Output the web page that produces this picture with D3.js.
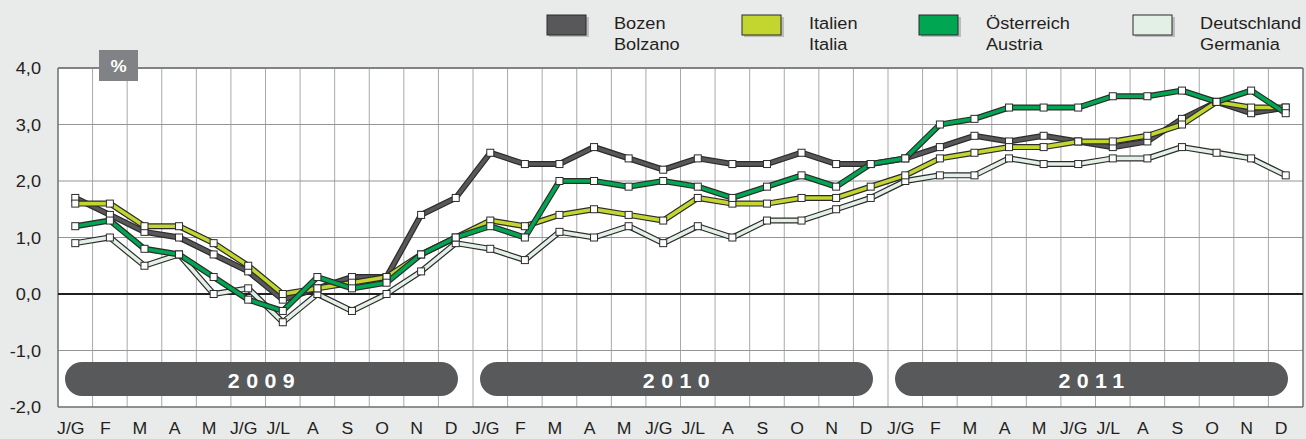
<!DOCTYPE html>
<html>
<head>
<meta charset="utf-8">
<script src="https://cdn.jsdelivr.net/npm/d3@7/dist/d3.min.js"></script>
<style>
  body { margin: 0; background: #e9eaea; }
  svg { display: block; font-family: "Liberation Sans", Arial, sans-serif; }
</style>
</head>
<body>
<svg width="1306" height="439"></svg>
<script>
// month labels (one year) and years
const monthsOfYear = ["J/G", "F", "M", "A", "M", "J/G", "J/L", "A", "S", "O", "N", "D"]
const years = ["2009", "2010", "2011"]
const months = [].concat(monthsOfYear, monthsOfYear, monthsOfYear)

const yTicks = [4, 3, 2, 1, 0, -1, -2]

// inflation rates, % (Jan 2009 - Dec 2011)
const bozen = [1.7, 1.4, 1.1, 1.0, 0.7, 0.4, -0.1, 0.1, 0.3, 0.3, 1.4, 1.7,
               2.5, 2.3, 2.3, 2.6, 2.4, 2.2, 2.4, 2.3, 2.3, 2.5, 2.3, 2.3,
               2.4, 2.6, 2.8, 2.7, 2.8, 2.7, 2.6, 2.7, 3.1, 3.4, 3.2, 3.3]
const italien = [1.6, 1.6, 1.2, 1.2, 0.9, 0.5, 0.0, 0.1, 0.2, 0.3, 0.7, 1.0,
                 1.3, 1.2, 1.4, 1.5, 1.4, 1.3, 1.7, 1.6, 1.6, 1.7, 1.7, 1.9,
                 2.1, 2.4, 2.5, 2.6, 2.6, 2.7, 2.7, 2.8, 3.0, 3.4, 3.3, 3.3]
const oesterreich = [1.2, 1.3, 0.8, 0.7, 0.3, -0.1, -0.3, 0.3, 0.1, 0.2, 0.7, 1.0,
                     1.2, 1.0, 2.0, 2.0, 1.9, 2.0, 1.9, 1.7, 1.9, 2.1, 1.9, 2.3,
                     2.4, 3.0, 3.1, 3.3, 3.3, 3.3, 3.5, 3.5, 3.6, 3.4, 3.6, 3.2]
const deutschland = [0.9, 1.0, 0.5, 0.7, 0.0, 0.1, -0.5, 0.0, -0.3, 0.0, 0.4, 0.9,
                     0.8, 0.6, 1.1, 1.0, 1.2, 0.9, 1.2, 1.0, 1.3, 1.3, 1.5, 1.7,
                     2.0, 2.1, 2.1, 2.4, 2.3, 2.3, 2.4, 2.4, 2.6, 2.5, 2.4, 2.1]

const series = [
    {name: "Bozen", name2: "Bolzano", values: bozen, colour: "#58585a", legendX: 547},
    {name: "Italien", name2: "Italia", values: italien, colour: "#c2d62f", legendX: 742},
    {name: "Österreich", name2: "Austria", values: oesterreich, colour: "#00a651", legendX: 919},
    {name: "Deutschland", name2: "Germania", values: deutschland, colour: "#e2f0e6", legendX: 1133}
]
// drawing order, bottom first
const drawOrder = ["Deutschland", "Bozen", "Italien", "Österreich"]

const svg = d3.select("svg")
const plotLeft = 58, plotRight = 1303, plotTop = 68, plotBottom = 407
const sx = 1.07   // text in the original is a bit wide

const x = d3.scaleBand().domain(d3.range(months.length)).range([plotLeft, plotRight])
const y = d3.scaleLinear().domain([-2, 4]).range([plotBottom, plotTop])
const cx = (i) => x(i) + x.bandwidth() / 2

// stretched text helper
function label(parent, tx, ty, str, anchor, size, opts) {
    opts = opts || {}
    return parent.append("text")
        .attr("transform", "translate(" + tx + "," + ty + ") scale(" + sx + ",1)")
        .attr("text-anchor", anchor)
        .style("font-size", size + "px")
        .style("font-weight", opts.bold ? "bold" : "normal")
        .style("letter-spacing", opts.spacing ? opts.spacing + "px" : null)
        .attr("fill", opts.fill || "#231f20")
        .text(str)
}

svg.append("rect").attr("width", 1306).attr("height", 439).attr("fill", "#e9eaea")
svg.append("rect")
    .attr("x", plotLeft).attr("y", plotTop)
    .attr("width", plotRight - plotLeft).attr("height", plotBottom - plotTop)
    .attr("fill", "#fff")

// grid
const grid = svg.append("g")
grid.selectAll("line.v").data(d3.range(1, months.length)).enter()
    .append("line")
    .attr("x1", (i) => x(i)).attr("x2", (i) => x(i))
    .attr("y1", plotTop).attr("y2", plotBottom)
    .attr("stroke", "#a7a9ac").attr("stroke-width", 1)
grid.selectAll("line.h").data(yTicks.filter((t) => t != 0 && t != 4 && t != -2)).enter()
    .append("line")
    .attr("x1", plotLeft).attr("x2", plotRight)
    .attr("y1", (d) => y(d)).attr("y2", (d) => y(d))
    .attr("stroke", "#939598").attr("stroke-width", 1)

// borders
svg.append("line").attr("x1", plotLeft).attr("x2", plotRight).attr("y1", plotTop).attr("y2", plotTop)
    .attr("stroke", "#808285").attr("stroke-width", 2)
svg.append("line").attr("x1", plotLeft).attr("x2", plotRight).attr("y1", plotBottom).attr("y2", plotBottom)
    .attr("stroke", "#6d6e71").attr("stroke-width", 1.5)
svg.append("line").attr("x1", plotLeft).attr("x2", plotLeft).attr("y1", plotTop).attr("y2", plotBottom)
    .attr("stroke", "#6d6e71").attr("stroke-width", 1.5)
svg.append("line").attr("x1", plotRight).attr("x2", plotRight).attr("y1", plotTop).attr("y2", plotBottom)
    .attr("stroke", "#6d6e71").attr("stroke-width", 1.5)
svg.append("line").attr("x1", plotLeft).attr("x2", plotRight).attr("y1", y(0)).attr("y2", y(0))
    .attr("stroke", "#231f20").attr("stroke-width", 2)

// year pills
const pills = svg.append("g")
years.forEach((yr, k) => {
    let x0 = x(k * 12) + 7
    let x1 = x(k * 12 + 11) + x.bandwidth() - 15
    pills.append("rect")
        .attr("x", x0).attr("y", 362)
        .attr("width", x1 - x0).attr("height", 34)
        .attr("rx", 17).attr("ry", 17)
        .attr("fill", "#58595b")
    label(pills, (x0 + x1) / 2 + 3, 388, yr, "middle", 20, {bold: true, spacing: 6, fill: "#fff"})
})

// y tick labels
const yAxis = svg.append("g")
yTicks.forEach((t) => {
    label(yAxis, 41, y(t) + 6, d3.format(".1f")(t).replace(".", ",").replace("−", "-"), "end", 17)
})

// month labels
const xAxis = svg.append("g")
months.forEach((m, i) => {
    label(xAxis, cx(i) - 4.5, 434, m, "middle", 16.5)
})

// % box
svg.append("rect").attr("x", 99).attr("y", 50).attr("width", 39).attr("height", 31).attr("fill", "#808285")
label(svg, 118.5, 72, "%", "middle", 17, {bold: true, fill: "#fff"})

// lines
const line = d3.line().x((d, i) => cx(i)).y((d) => y(d))
const lines = svg.append("g")
drawOrder.forEach((n) => {
    let s = series.find((e) => e.name == n)
    lines.append("path").attr("d", line(s.values))
        .attr("fill", "none").attr("stroke", "#2b2b2b").attr("stroke-width", 6)
        .attr("stroke-linejoin", "miter")
    lines.append("path").attr("d", line(s.values))
        .attr("fill", "none").attr("stroke", s.colour).attr("stroke-width", 3.6)
        .attr("stroke-linejoin", "miter")
})

// markers
const marks = svg.append("g")
drawOrder.forEach((n) => {
    let s = series.find((e) => e.name == n)
    marks.append("g").selectAll("rect").data(s.values).enter()
        .append("rect")
        .attr("x", (d, i) => cx(i) - 3.5)
        .attr("y", (d) => y(d) - 3.5)
        .attr("width", 7).attr("height", 7)
        .attr("fill", "#fff").attr("stroke", "#2b2b2b").attr("stroke-width", 1)
})

// legend
const legend = svg.append("g")
series.forEach((s) => {
    legend.append("rect")
        .attr("x", s.legendX + 2).attr("y", 17).attr("width", 40).attr("height", 20)
        .attr("fill", "#a7a9ac").attr("opacity", 0.7)
    legend.append("rect")
        .attr("x", s.legendX).attr("y", 15).attr("width", 39).attr("height", 20)
        .attr("fill", s.colour).attr("stroke", "#2b2b2b").attr("stroke-width", 1)
    label(legend, s.legendX + 67, 29, s.name, "start", 17)
    label(legend, s.legendX + 67, 50, s.name2, "start", 17)
})
</script>
</body>
</html>
